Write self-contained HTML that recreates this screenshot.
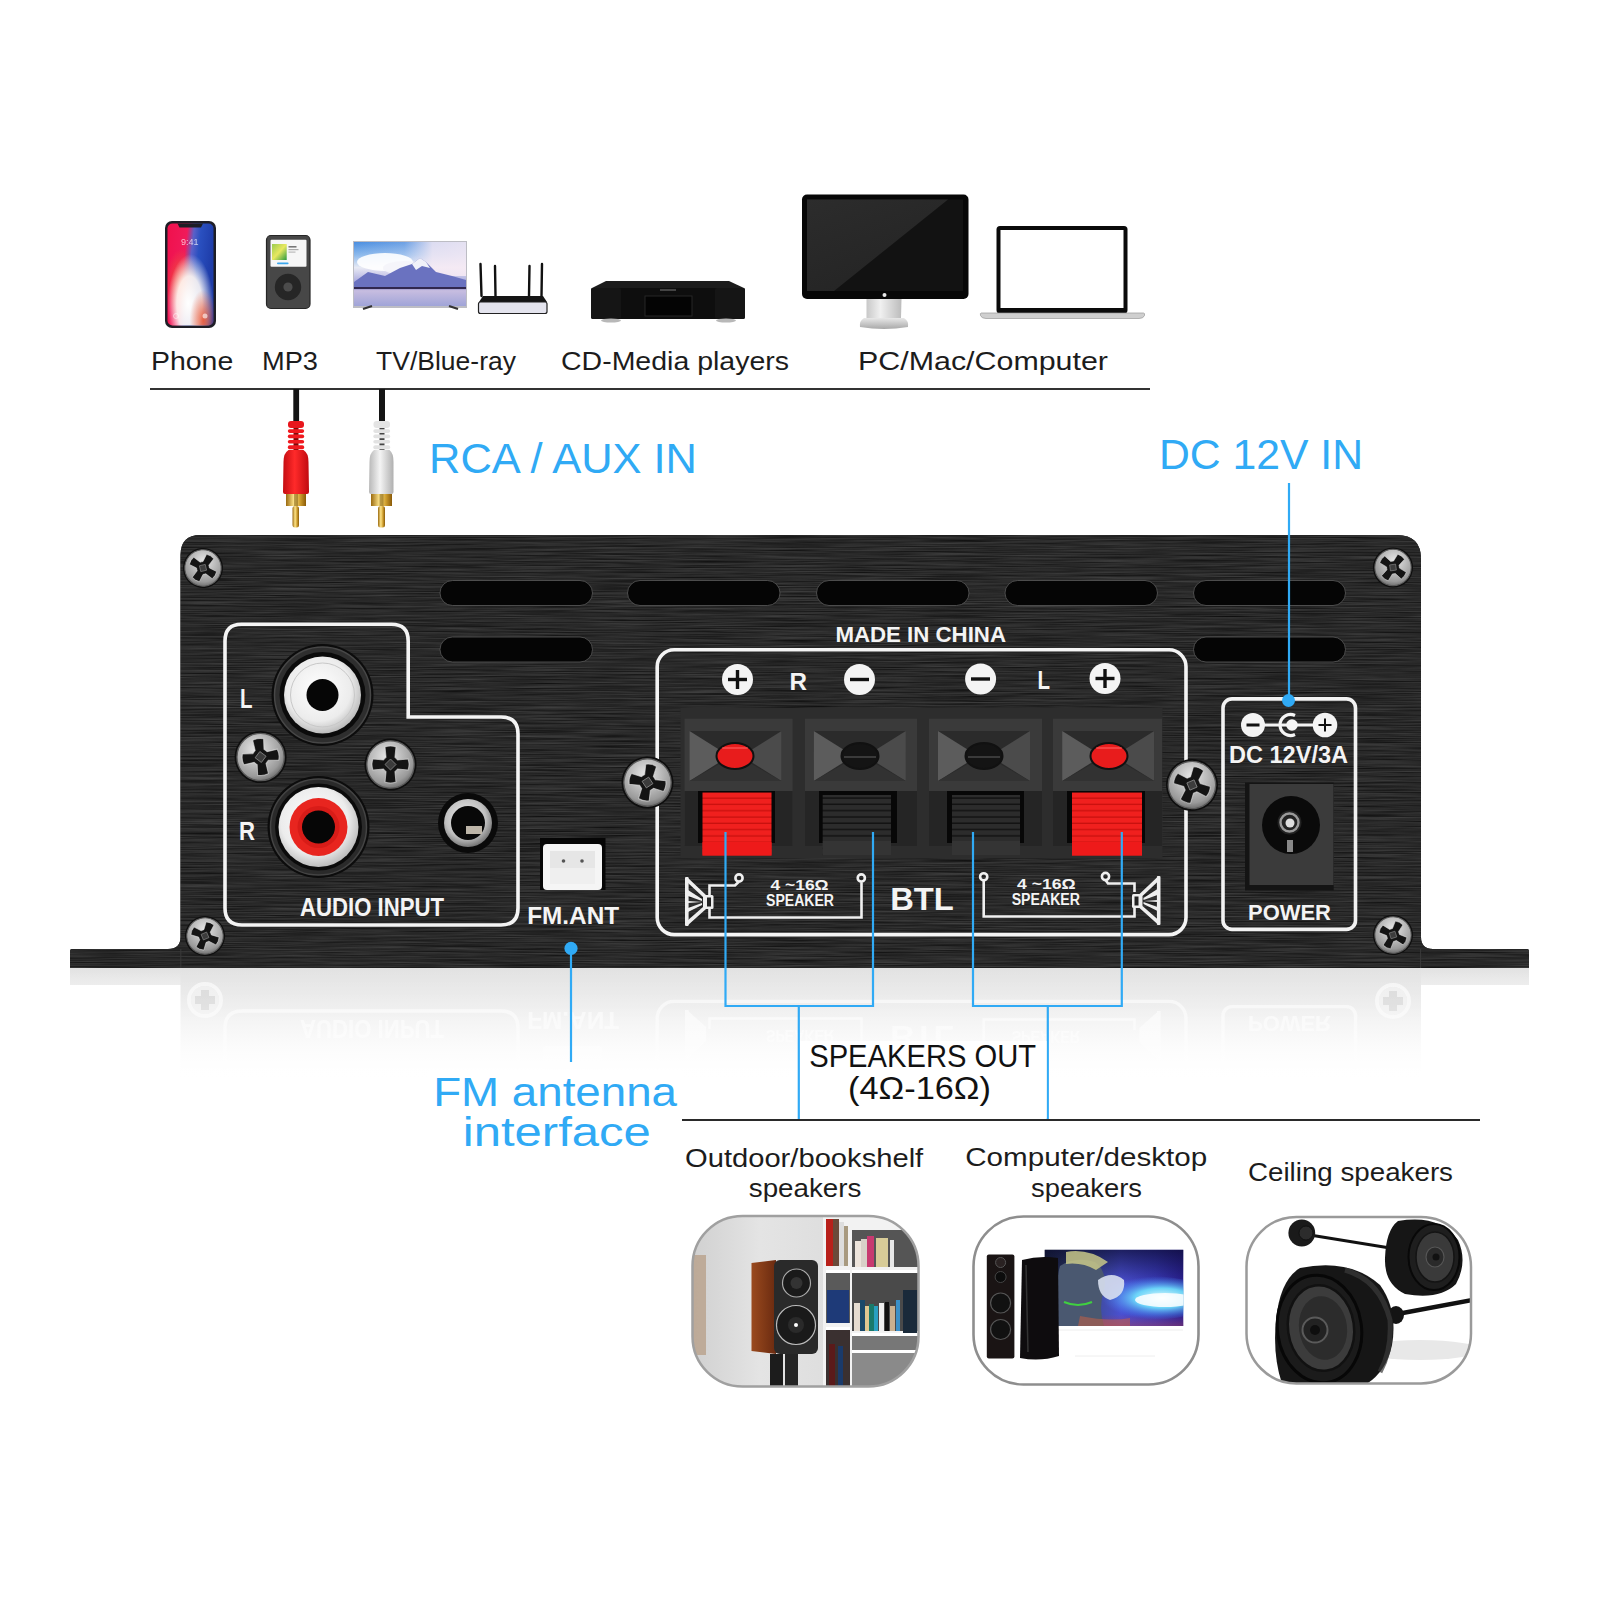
<!DOCTYPE html>
<html><head><meta charset="utf-8"><title>Amplifier connections</title>
<style>
html,body{margin:0;padding:0;background:#fff;}
body{width:1600px;height:1600px;overflow:hidden;position:relative;}
svg{position:absolute;left:0;top:0;display:block;}
text{font-family:"Liberation Sans",sans-serif;}
.lbl{font-size:26px;fill:#1c1c1c;}
.blue{fill:#30aaf5;}
.wb{font-weight:bold;fill:#f4f4f4;}
</style></head>
<body>
<svg width="1600" height="1600" viewBox="0 0 1600 1600">
<defs>
  <linearGradient id="phoneScr" x1="0" y1="0" x2="1" y2="0.25">
    <stop offset="0" stop-color="#f0104c"/><stop offset="0.42" stop-color="#f01a5a"/>
    <stop offset="0.56" stop-color="#5a60c8"/><stop offset="0.7" stop-color="#2a50c0"/>
    <stop offset="1" stop-color="#1e3ca8"/>
  </linearGradient>
  <radialGradient id="phoneGlow" cx="0.5" cy="0.8" r="0.5" fx="0.45" fy="0.78">
    <stop offset="0" stop-color="#fff" stop-opacity="1"/><stop offset="0.55" stop-color="#fffaf6" stop-opacity="0.9"/><stop offset="1" stop-color="#fff" stop-opacity="0"/>
  </radialGradient>
  <radialGradient id="phoneOr1" cx="0.3" cy="0.6" r="0.35">
    <stop offset="0" stop-color="#f26a30" stop-opacity="0.85"/><stop offset="1" stop-color="#f26a30" stop-opacity="0"/>
  </radialGradient>
  <radialGradient id="phoneOr2" cx="0.78" cy="0.95" r="0.3">
    <stop offset="0" stop-color="#f05028" stop-opacity="0.85"/><stop offset="1" stop-color="#f05028" stop-opacity="0"/>
  </radialGradient>
  <linearGradient id="phoneV" x1="0" y1="0" x2="0" y2="1">
    <stop offset="0" stop-color="#fff" stop-opacity="0"/><stop offset="0.75" stop-color="#f8a070" stop-opacity="0.1"/>
    <stop offset="1" stop-color="#f07040" stop-opacity="0.45"/>
  </linearGradient>
  <linearGradient id="tvScr" x1="0" y1="0" x2="0" y2="1">
    <stop offset="0" stop-color="#4a8ee0"/><stop offset="0.2" stop-color="#8ab8ec"/><stop offset="0.4" stop-color="#e8eaf4"/>
    <stop offset="0.6" stop-color="#b0b0e0"/><stop offset="0.72" stop-color="#8a8ac8"/>
    <stop offset="0.76" stop-color="#c7bde0"/>
    <stop offset="1" stop-color="#a0a4d8"/>
  </linearGradient>
  <linearGradient id="monScr" x1="0" y1="0" x2="1" y2="1">
    <stop offset="0" stop-color="#2c2c2c"/><stop offset="0.5" stop-color="#242424"/>
    <stop offset="0.5" stop-color="#0c0c0c"/><stop offset="1" stop-color="#0a0a0a"/>
  </linearGradient>
  <linearGradient id="silverV" x1="0" y1="0" x2="0" y2="1">
    <stop offset="0" stop-color="#e8e8e8"/><stop offset="1" stop-color="#a8a8a8"/>
  </linearGradient>
  <linearGradient id="redBody" x1="0" y1="0" x2="1" y2="0">
    <stop offset="0" stop-color="#c40d12"/><stop offset="0.45" stop-color="#ff2a2a"/><stop offset="1" stop-color="#c00a10"/>
  </linearGradient>
  <linearGradient id="whiteBody" x1="0" y1="0" x2="1" y2="0">
    <stop offset="0" stop-color="#b8b8b8"/><stop offset="0.45" stop-color="#f4f4f4"/><stop offset="1" stop-color="#b0b0b0"/>
  </linearGradient>
  <linearGradient id="gold" x1="0" y1="0" x2="1" y2="0">
    <stop offset="0" stop-color="#9a6a10"/><stop offset="0.4" stop-color="#ffe58a"/><stop offset="0.7" stop-color="#d0a030"/><stop offset="1" stop-color="#8a5a08"/>
  </linearGradient>
  
  <linearGradient id="reflFl" x1="0" y1="0" x2="0" y2="1">
    <stop offset="0" stop-color="#e2e2e2"/><stop offset="1" stop-color="#ececec"/>
  </linearGradient>
  <linearGradient id="reflPanel" x1="0" y1="0" x2="0" y2="1">
    <stop offset="0" stop-color="#e2e2e2"/><stop offset="0.25" stop-color="#e9e9e9"/><stop offset="0.6" stop-color="#f4f4f4"/><stop offset="1" stop-color="#ffffff"/>
  </linearGradient>
  <pattern id="brush" patternUnits="userSpaceOnUse" width="400" height="7">
    <rect width="400" height="7" fill="#252525"/>
    <rect y="0" width="400" height="1" fill="#2e2e2e"/>
    <rect y="2" width="260" height="1" fill="#1d1d1d"/>
    <rect x="120" y="3" width="280" height="1" fill="#303030"/>
    <rect y="5" width="180" height="1" fill="#2b2b2b"/>
    <rect x="220" y="6" width="180" height="1" fill="#1c1c1c"/>
  </pattern>
  <linearGradient id="brushV" x1="0" y1="0" x2="0" y2="1">
    <stop offset="0" stop-color="#000" stop-opacity="0.05"/><stop offset="1" stop-color="#000" stop-opacity="0.0"/>
  </linearGradient>
  <radialGradient id="jackWhite" cx="0.45" cy="0.42" r="0.6">
    <stop offset="0" stop-color="#ffffff"/><stop offset="0.7" stop-color="#ececec"/><stop offset="1" stop-color="#b8b8b8"/>
  </radialGradient>
  <radialGradient id="jackSilver" cx="0.45" cy="0.4" r="0.6">
    <stop offset="0" stop-color="#f0f0f0"/><stop offset="0.7" stop-color="#c0c0c0"/><stop offset="1" stop-color="#777"/>
  </radialGradient>
  <radialGradient id="screwG" cx="0.4" cy="0.35" r="0.7">
    <stop offset="0" stop-color="#e8e8e8"/><stop offset="0.45" stop-color="#bdbdbd"/><stop offset="0.8" stop-color="#9a9a9a"/><stop offset="1" stop-color="#6a6a6a"/>
  </radialGradient>
  <g id="screw">
    <circle r="20" fill="#0e0e0e"/>
    <circle r="18.2" fill="url(#screwG)"/>
    <circle r="18.2" fill="none" stroke="#5a5a5a" stroke-width="1"/>
    <path d="M-4.2 -13.5 Q0 -15 4.2 -13.5 L3.4 -5.5 Q4.5 -4.5 5.5 -3.4 L13.5 -4.2 Q15 0 13.5 4.2 L5.5 3.4 Q4.5 4.5 3.4 5.5 L4.2 13.5 Q0 15 -4.2 13.5 L-3.4 5.5 Q-4.5 4.5 -5.5 3.4 L-13.5 4.2 Q-15 0 -13.5 -4.2 L-5.5 -3.4 Q-4.5 -4.5 -3.4 -5.5 Z" fill="#141414" stroke="#e8e8e8" stroke-width="0.8" stroke-opacity="0.6" transform="rotate(-8)"/>
    <rect x="-3" y="-3" width="6" height="6" fill="#3c3c3c" stroke="#888" stroke-width="0.6" transform="rotate(37)"/>
  </g>
  
  <pattern id="ridgeRed" patternUnits="userSpaceOnUse" width="10" height="6.3" y="792.5">
    <rect width="10" height="6.3" fill="#f0201e"/>
    <rect y="5" width="10" height="1.3" fill="#c8100e"/>
  </pattern>
  <pattern id="ridgeBlk" patternUnits="userSpaceOnUse" width="10" height="6.3" y="792.5">
    <rect width="10" height="6.3" fill="#2c2c2c"/>
    <rect y="4.8" width="10" height="1.5" fill="#121212"/>
  </pattern>
  
  <clipPath id="clipT1"><rect x="692.5" y="1216" width="226" height="170.5" rx="50"/></clipPath>
  <clipPath id="clipT2"><rect x="973.5" y="1216.5" width="225" height="168" rx="50"/></clipPath>
  <clipPath id="clipT3"><rect x="1246.5" y="1216.9" width="224.5" height="166.5" rx="50"/></clipPath>
  <linearGradient id="wallG" x1="0" y1="0" x2="1" y2="0">
    <stop offset="0" stop-color="#d0d0d0"/><stop offset="0.3" stop-color="#e4e4e4"/><stop offset="0.6" stop-color="#dedede"/><stop offset="1" stop-color="#cfcfcf"/>
  </linearGradient>
  <linearGradient id="woodG" x1="0" y1="0" x2="1" y2="0">
    <stop offset="0" stop-color="#9a4a1e"/><stop offset="1" stop-color="#6a2a10"/>
  </linearGradient>
  <linearGradient id="gameG" x1="0" y1="0" x2="1" y2="0">
    <stop offset="0" stop-color="#1e2838"/><stop offset="0.3" stop-color="#3a4a88"/><stop offset="0.55" stop-color="#4a50d0"/><stop offset="0.8" stop-color="#3a3ab8"/><stop offset="1" stop-color="#2a2090"/>
  </linearGradient>
  <linearGradient id="gameTop" x1="0" y1="0" x2="0" y2="1">
    <stop offset="0" stop-color="#0a0a30" stop-opacity="0.7"/><stop offset="0.45" stop-color="#0a0a30" stop-opacity="0"/><stop offset="0.85" stop-color="#a03060" stop-opacity="0"/><stop offset="1" stop-color="#a04060" stop-opacity="0.5"/>
  </linearGradient>
  <radialGradient id="beamG" cx="0.6" cy="0.5" r="0.5">
    <stop offset="0" stop-color="#f0ffff"/><stop offset="0.45" stop-color="#70e4ff" stop-opacity="0.9"/><stop offset="1" stop-color="#4080ff" stop-opacity="0"/>
  </radialGradient>
  
  <linearGradient id="reflFade" x1="0" y1="0" x2="0" y2="1">
    <stop offset="0" stop-color="#fff" stop-opacity="0"/><stop offset="0.3" stop-color="#fff" stop-opacity="0.15"/><stop offset="0.6" stop-color="#fff" stop-opacity="0.5"/><stop offset="0.92" stop-color="#fff" stop-opacity="1"/><stop offset="1" stop-color="#fff" stop-opacity="1"/>
  </linearGradient>
  
  <clipPath id="clipRefl"><rect x="70" y="968" width="1460" height="118"/></clipPath>
  
  <clipPath id="panelClip"><path d="M70 951 Q70 949 72 949 L168 949 Q180.5 949 180.5 937 L180.5 555 Q180.5 535 200.5 535 L1397 535 Q1421 535 1421 559 L1421 937 Q1421 949 1433 949 L1527 949 Q1529 949 1529 951 L1529 968 L70 968 Z"/></clipPath>
  <filter id="brushF" x="0" y="0" width="1" height="1" filterUnits="objectBoundingBox" color-interpolation-filters="sRGB">
    <feTurbulence type="fractalNoise" baseFrequency="0.012 0.8" numOctaves="3" seed="7" result="n"/>
    <feColorMatrix in="n" type="matrix" values="0.24 0 0 0 0.04  0.24 0 0 0 0.04  0.24 0 0 0 0.04  0 0 0 0 1"/>
  </filter>
  <linearGradient id="tvSkyR" x1="0" y1="0" x2="1" y2="0">
    <stop offset="0" stop-color="#f4e8f4" stop-opacity="0"/><stop offset="0.45" stop-color="#f4e8f4" stop-opacity="0.2"/><stop offset="0.7" stop-color="#f6eaf4" stop-opacity="0.85"/><stop offset="1" stop-color="#f6eaf4" stop-opacity="0.9"/>
  </linearGradient>
  <linearGradient id="monGl" x1="0" y1="0" x2="0.6" y2="1">
    <stop offset="0" stop-color="#2c2c2c"/><stop offset="1" stop-color="#242424"/>
  </linearGradient>
  <linearGradient id="standG" x1="0" y1="0" x2="1" y2="0">
    <stop offset="0" stop-color="#c8c8c8"/><stop offset="0.4" stop-color="#f0f0f0"/><stop offset="1" stop-color="#bcbcbc"/>
  </linearGradient>
  <linearGradient id="ipodArt" x1="0" y1="0" x2="1" y2="1">
    <stop offset="0" stop-color="#9acc50"/><stop offset="0.5" stop-color="#e8e860"/><stop offset="1" stop-color="#2a9a40"/>
  </linearGradient>
  <clipPath id="clipScr"><rect x="1044.5" y="1249.6" width="139" height="76.4"/></clipPath>
  <!--DEFS2-->
</defs>

<!-- ===== TOP DEVICES ===== -->
<g id="devices">
  <!-- phone -->
  <rect x="165" y="221" width="51" height="107" rx="7" fill="#1e1e26"/>
  <rect x="167.5" y="223.5" width="46" height="102" rx="5" fill="url(#phoneScr)"/>
  <rect x="167.5" y="223.5" width="46" height="102" rx="5" fill="url(#phoneOr1)"/>
  <rect x="167.5" y="223.5" width="46" height="102" rx="5" fill="url(#phoneGlow)"/>
  <rect x="167.5" y="223.5" width="46" height="102" rx="5" fill="url(#phoneOr2)"/>
  <path d="M177.5 223.5 L203 223.5 L201 227.5 L179.5 227.5Z" fill="#1e1e26"/>
  <text x="181" y="245" font-size="9" fill="#fff" opacity="0.7">9:41</text>
  <circle cx="176" cy="316" r="2.5" fill="none" stroke="#fff" stroke-opacity="0.5"/>
  <circle cx="205" cy="316" r="2.5" fill="#fff" fill-opacity="0.6"/>
  <!-- ipod -->
  <rect x="266.5" y="235.5" width="43.5" height="73" rx="4.5" fill="#474747" stroke="#262626" stroke-width="1.2"/>
  <rect x="270.5" y="239.7" width="36" height="27" rx="1" fill="#f6f6f6"/>
  <rect x="272" y="244" width="14.7" height="16" fill="url(#ipodArt)"/>
  <rect x="288.5" y="246" width="8" height="1.6" fill="#777"/>
  <rect x="288.5" y="249" width="10" height="1.2" fill="#aaa"/>
  <rect x="288.5" y="251.5" width="7" height="1.2" fill="#bbb"/>
  <rect x="277" y="262.4" width="11.6" height="1.8" rx="0.9" fill="#3aa6ec"/>
  <circle cx="288" cy="287" r="13.2" fill="#262626"/>
  <circle cx="288" cy="287" r="4.6" fill="#4c4c4c"/>
  <!-- tv -->
  <rect x="353" y="241" width="114" height="67" fill="#bdbdc4"/>
  <rect x="354" y="242" width="112" height="64" fill="url(#tvScr)"/>
  <rect x="354" y="242" width="112" height="34" fill="url(#tvSkyR)"/>
  <ellipse cx="385" cy="262" rx="28" ry="9" fill="#fff" opacity="0.9"/>
  <ellipse cx="405" cy="268" rx="22" ry="7" fill="#f4f4fa" opacity="0.9"/>
  <path d="M354 282 L368 272 L385 276 L400 268 L412 264 L420 258 L426 262 L436 272 L452 276 L466 280 L466 288 L354 288Z" fill="#6a72c0"/>
  <path d="M412 264 L420 258 L426 262 L430 268 L422 266 L416 270Z" fill="#fff" opacity="0.9"/>
  <rect x="354" y="287" width="112" height="2" fill="#302850"/>
  <path d="M363 309 L372 306" stroke="#333" stroke-width="2"/>
  <path d="M449 306 L458 309" stroke="#333" stroke-width="2"/>
  <!-- router -->
  <g stroke="#111" stroke-width="2.4" stroke-linecap="round">
    <line x1="480.5" y1="264" x2="481.5" y2="296"/>
    <line x1="495" y1="266" x2="495.5" y2="296"/>
    <line x1="529.5" y1="266" x2="529" y2="296"/>
    <line x1="542" y1="264" x2="541.5" y2="296"/>
  </g>
  <path d="M479 302 L483 296 L543 296 L547 302Z" fill="#151515"/>
  <rect x="478.5" y="302" width="68.5" height="11.5" rx="2" fill="#e4e4ee" stroke="#222" stroke-width="1.2"/>
  <!-- cd player -->
  <path d="M606 281 L729 281 L745 288.5 L591 288.5 Z" fill="#1c1c1c"/>
  <rect x="591" y="288" width="154" height="31" rx="2" fill="#0e0e0e"/>
  <rect x="591" y="288" width="30" height="31" rx="2" fill="#151515"/>
  <rect x="715" y="288" width="30" height="31" rx="2" fill="#151515"/>
  <rect x="645" y="296" width="47" height="20" fill="#040404" stroke="#262626" stroke-width="1"/>
  <rect x="660" y="289" width="16" height="2" fill="#444"/>
  <ellipse cx="611" cy="320.5" rx="10" ry="2" fill="#b8b8b8"/>
  <ellipse cx="726" cy="320.5" rx="10" ry="2" fill="#b8b8b8"/>
  <!-- monitor -->
  <rect x="802" y="194.5" width="166.5" height="104.5" rx="5" fill="#070707"/>
  <rect x="807" y="199.5" width="156" height="91.5" fill="#121212"/>
  <path d="M807 199.5 L948 199.5 L834 291 L807 291Z" fill="url(#monGl)"/>
  <circle cx="884.5" cy="295" r="2" fill="#e8e8e8"/>
  <path d="M866.5 299 L901.5 299 L901 318 L866.5 318Z" fill="url(#standG)"/>
  <path d="M864 318 L904 318 Q909 321 908 327 Q884 331 860 327 Q859 321 864 318Z" fill="url(#silverV)"/>
  <!-- laptop -->
  <rect x="996.5" y="226" width="131" height="87.5" rx="3.5" fill="#0a0a0a"/>
  <rect x="1000.5" y="230" width="123" height="78" fill="#fff"/>
  <path d="M981 313 L1143.5 313 Q1145 313 1144.5 315.5 Q1143.5 318.5 1139 318.5 L986 318.5 Q981.5 318.5 980.5 315.5 Q980 313 981 313Z" fill="#cfcfcf" stroke="#9a9a9a" stroke-width="0.7"/>
</g>

<!-- labels -->
<g class="lbl">
  <text x="151.0" y="370" textLength="82.2" lengthAdjust="spacingAndGlyphs">Phone</text>
  <text x="262.0" y="370" textLength="56.0" lengthAdjust="spacingAndGlyphs">MP3</text>
  <text x="376.0" y="370" textLength="140.0" lengthAdjust="spacingAndGlyphs">TV/Blue-ray</text>
  <text x="561.0" y="370" textLength="228.0" lengthAdjust="spacingAndGlyphs">CD-Media players</text>
  <text x="858.0" y="370" textLength="250.0" lengthAdjust="spacingAndGlyphs">PC/Mac/Computer</text>
</g>
<rect x="150" y="388" width="1000" height="2" fill="#333"/>

<!-- RCA plugs -->
<g id="rcaRed">
  <rect x="293.3" y="389" width="5.8" height="33" fill="#141414"/>
  <rect x="293.5" y="421" width="5" height="30" fill="#7a0a0a"/>
  <rect x="288" y="421" width="16" height="7" rx="3" fill="#e8161c"/>
  <rect x="287.8" y="429.3" width="16.4" height="3.6" rx="1.8" fill="#f0181e"/>
  <rect x="287.8" y="434.6" width="16.4" height="3.6" rx="1.8" fill="#f0181e"/>
  <rect x="287.8" y="439.9" width="16.4" height="3.6" rx="1.8" fill="#f0181e"/>
  <rect x="287.8" y="445.2" width="16.4" height="4" rx="1.8" fill="#f0181e"/>
  <path d="M288.5 450 L303.5 450 Q308.5 453 308.5 462 L309 492 Q309 494 307 494 L285 494 Q283 494 283 492 L283.5 462 Q283.5 453 288.5 450Z" fill="url(#redBody)"/>
  <rect x="286" y="494" width="20" height="12" fill="url(#gold)"/>
  <rect x="294" y="494" width="4" height="12" fill="#7a5a10" opacity="0.5"/>
  <rect x="292.5" y="506" width="6.5" height="21.5" rx="2.5" fill="url(#gold)"/>
</g>
<g id="rcaWhite">
  <rect x="379" y="389" width="6" height="33" fill="#141414"/>
  <rect x="379.5" y="421" width="5" height="30" fill="#444"/>
  <rect x="373.5" y="421" width="16.5" height="7" rx="3" fill="#e4e4e4"/>
  <rect x="373.3" y="429.3" width="16.9" height="3.6" rx="1.8" fill="#e2e2e2"/>
  <rect x="373.3" y="434.6" width="16.9" height="3.6" rx="1.8" fill="#e2e2e2"/>
  <rect x="373.3" y="439.9" width="16.9" height="3.6" rx="1.8" fill="#e2e2e2"/>
  <rect x="373.3" y="445.2" width="16.9" height="4" rx="1.8" fill="#e2e2e2"/>
  <path d="M374 450 L389.5 450 Q393.5 453 393.5 462 L393.5 492 Q393.5 494 391.5 494 L371 494 Q369 494 369 492 L369.5 462 Q369.5 453 374 450Z" fill="url(#whiteBody)"/>
  <rect x="371" y="494" width="21" height="12" fill="url(#gold)"/>
  <rect x="379.5" y="494" width="4" height="12" fill="#7a5a10" opacity="0.5"/>
  <rect x="378" y="506" width="7" height="21.5" rx="2.5" fill="url(#gold)"/>
</g>

<!-- blue callout titles -->
<text class="blue" x="429.0" y="473" font-size="42" textLength="268.0" lengthAdjust="spacingAndGlyphs">RCA / AUX IN</text>
<text class="blue" x="1159.0" y="469" font-size="42" textLength="204.0" lengthAdjust="spacingAndGlyphs">DC 12V IN</text>

<!-- ===== REFLECTION ===== -->
<rect x="70" y="968" width="1459" height="17" fill="url(#reflFl)"/>
<rect x="180.5" y="968" width="1240.5" height="115" fill="url(#reflPanel)"/>
<g clip-path="url(#clipRefl)"><g transform="translate(0,1936) scale(1,-1)" opacity="0.75">
  <g fill="none" stroke="#fbfbfb" stroke-width="3.4">
    <path d="M225 641 Q225 624.3 241.5 624.3 L391.5 624.3 Q408.2 624.3 408.2 641 L408.2 717 L501 717 Q518 717 518 734 L518 908 Q518 925 501 925 L242 925 Q225 925 225 908 Z"/>
    <rect x="657.2" y="649.8" width="528.8" height="284.8" rx="17"/>
    <rect x="1223" y="698.9" width="132.5" height="230.5" rx="9"/>
  </g>
  <g font-weight="bold" fill="#fbfbfb">
    <text x="300" y="916" font-size="26" textLength="144" lengthAdjust="spacingAndGlyphs">AUDIO INPUT</text>
    <text x="527.2" y="924" font-size="24.7" textLength="92" lengthAdjust="spacingAndGlyphs">FM.ANT</text>
    <text x="890.2" y="909.8" font-size="32" textLength="63.6" lengthAdjust="spacingAndGlyphs">BTL</text>
    <text x="1248" y="919.7" font-size="21.5" textLength="83" lengthAdjust="spacingAndGlyphs">POWER</text>
    <text x="766" y="906.2" font-size="16" textLength="68" lengthAdjust="spacingAndGlyphs">SPEAKER</text>
    <text x="1011.7" y="905" font-size="16" textLength="68.3" lengthAdjust="spacingAndGlyphs">SPEAKER</text>
  </g>
  <rect x="543" y="844" width="59" height="46" rx="4" fill="#fbfbfb"/>
  <g fill="none" stroke="#fbfbfb" stroke-width="4"><circle cx="205" cy="936" r="16"/><circle cx="1393" cy="935" r="16"/></g>
  <g fill="#f2f2f2"><circle cx="205" cy="936" r="14"/><circle cx="1393" cy="935" r="14"/></g>
  <g fill="#d6d6d6"><path d="M201 926h8v6h6v8h-6v6h-8v-6h-6v-8h6z"/><path d="M1389 925h8v6h6v8h-6v6h-8v-6h-6v-8h6z"/></g>
  <g fill="none" stroke="#fbfbfb" stroke-width="2.6">
    <path d="M709.5 907 L709.5 917.5 L861.5 917.5 L861.5 882.5"/>
    <path d="M983.7 880.5 L983.7 916.5 L1134.5 916.5 L1134.5 906"/>
  </g>
  <g fill="#fbfbfb"><rect x="685" y="877" width="3.6" height="49"/><path d="M687 877 L706 895 L706 909 L687 926Z"/><rect x="1157" y="876" width="3.6" height="49"/><path d="M1158.5 876 L1139.5 894 L1139.5 908 L1158.5 925Z"/></g>
</g></g>
<rect x="70" y="968" width="1460" height="120" fill="url(#reflFade)"/>

<!-- ===== PANEL BODY ===== -->
<path d="M70 951 Q70 949 72 949 L168 949 Q180.5 949 180.5 937 L180.5 555 Q180.5 535 200.5 535 L1397 535 Q1421 535 1421 559 L1421 937 Q1421 949 1433 949 L1527 949 Q1529 949 1529 951 L1529 968 L70 968 Z" fill="#242424"/>
<g clip-path="url(#panelClip)">
  <rect x="70" y="535" width="1460" height="434" filter="url(#brushF)"/>
</g>
<line x1="180.8" y1="949" x2="180.8" y2="968" stroke="#3a3a3a" stroke-width="1"/>
<line x1="1420.6" y1="949" x2="1420.6" y2="968" stroke="#3a3a3a" stroke-width="1"/>

<!-- vents -->
<g fill="#050505" stroke="#5a5a5a" stroke-width="0.8">
  <rect x="440" y="580.5" width="152.5" height="25" rx="12.5"/>
  <rect x="627.5" y="580.5" width="152.5" height="25" rx="12.5"/>
  <rect x="816.5" y="580.5" width="152.5" height="25" rx="12.5"/>
  <rect x="1005" y="580.5" width="152.5" height="25" rx="12.5"/>
  <rect x="1193.5" y="580.5" width="152" height="25" rx="12.5"/>
  <rect x="440" y="637" width="152.5" height="25" rx="12.5"/>
  <rect x="1193.5" y="637" width="152" height="25" rx="12.5"/>
</g>

<!-- ===== AUDIO INPUT ===== -->
<path d="M225 641 Q225 624.3 241.5 624.3 L391.5 624.3 Q408.2 624.3 408.2 641 L408.2 717 L501 717 Q518 717 518 734 L518 908 Q518 925 501 925 L242 925 Q225 925 225 908 Z" fill="none" stroke="#f4f4f4" stroke-width="3.6"/>
<text class="wb" x="240" y="708" font-size="27" textLength="12.5" lengthAdjust="spacingAndGlyphs">L</text>
<text class="wb" x="239" y="840" font-size="26" textLength="16" lengthAdjust="spacingAndGlyphs">R</text>
<text class="wb" x="300.0" y="916" font-size="26" textLength="144.0" lengthAdjust="spacingAndGlyphs">AUDIO INPUT</text>

<!-- L jack (white) -->
<g>
  <circle cx="322.5" cy="695" r="51" fill="#0c0c0c"/>
  <circle cx="322.5" cy="695" r="48" fill="#2e2e2e" stroke="#474747" stroke-width="1.5"/>
  <circle cx="322.5" cy="695" r="43" fill="#0b0b0b"/>
  <circle cx="322.5" cy="695" r="38.5" fill="url(#jackWhite)"/>
  <circle cx="322.5" cy="695" r="32" fill="none" stroke="#c8c8c8" stroke-width="1"/>
  <circle cx="322.5" cy="695" r="16" fill="#060606"/>
</g>
<!-- R jack (red) -->
<g>
  <circle cx="318.5" cy="827" r="51" fill="#0c0c0c"/>
  <circle cx="318.5" cy="827" r="48" fill="#2a2a2a" stroke="#444" stroke-width="1.5"/>
  <circle cx="318.5" cy="827" r="43.5" fill="#0b0b0b"/>
  <circle cx="318.5" cy="827" r="40" fill="url(#jackWhite)"/>
  <circle cx="318.5" cy="827" r="29" fill="#e8251f"/>
  <circle cx="318.5" cy="827" r="21" fill="#d81c18"/>
  <circle cx="318.5" cy="827" r="16.5" fill="#060606"/>
</g>
<!-- 3.5mm jack -->
<g>
  <circle cx="468" cy="823" r="30" fill="#0a0a0a"/>
  <circle cx="468" cy="823" r="24" fill="url(#jackSilver)"/>
  <circle cx="468" cy="823" r="17" fill="#080808"/>
  <rect x="466" y="826" width="16" height="8" fill="#bdb5a8"/>
</g>
<!-- screws in audio box -->
<use href="#screw" transform="translate(260.6,757) scale(1.3)"/>
<use href="#screw" transform="translate(390.5,764.5) scale(1.3) rotate(8)"/>

<!-- FM ANT -->
<rect x="540" y="838" width="65.5" height="52" fill="#060606"/>
<rect x="543" y="844" width="59" height="46" rx="4" fill="#f5f5f5"/>
<rect x="550" y="851" width="45" height="33" fill="#e6e6e6"/>
<rect x="550" y="868" width="45" height="16" fill="#efefef"/>
<circle cx="563.5" cy="861" r="1.8" fill="#555"/>
<circle cx="582" cy="861" r="1.8" fill="#555"/>
<text class="wb" x="527.2" y="924" font-size="24.7" textLength="92.0" lengthAdjust="spacingAndGlyphs">FM.ANT</text>
<!-- ===== SPEAKER BOX ===== -->
<text class="wb" x="835.4" y="641.7" font-size="22" textLength="170.6" lengthAdjust="spacingAndGlyphs">MADE IN CHINA</text>
<rect x="657.2" y="649.8" width="528.8" height="284.8" rx="17" fill="none" stroke="#f4f4f4" stroke-width="3.6"/>
<!-- +/- symbols -->
<g>
  <circle cx="737.5" cy="679.5" r="15.5" fill="#f4f4f4"/>
  <circle cx="859.5" cy="679.5" r="15.5" fill="#f4f4f4"/>
  <circle cx="980.6" cy="679" r="15.5" fill="#f4f4f4"/>
  <circle cx="1105" cy="678.5" r="15.5" fill="#f4f4f4"/>
  <g stroke="#111" stroke-width="3.4">
    <line x1="728" y1="679.5" x2="747" y2="679.5"/><line x1="737.5" y1="670" x2="737.5" y2="689"/>
    <line x1="850" y1="679.5" x2="869" y2="679.5"/>
    <line x1="971" y1="679" x2="990" y2="679"/>
    <line x1="1095.5" y1="678.5" x2="1114.5" y2="678.5"/><line x1="1105" y1="669" x2="1105" y2="688"/>
  </g>
  <text class="wb" x="789.5" y="689.6" font-size="24" textLength="17.5" lengthAdjust="spacingAndGlyphs">R</text>
  <text class="wb" x="1037.5" y="689.3" font-size="25" textLength="12.5" lengthAdjust="spacingAndGlyphs">L</text>
</g>
<!-- terminal block -->
<rect x="680.5" y="708" width="482" height="150" fill="#2d2d2d"/>
<g id="unitsTop">
  <rect x="684.6" y="718.7" width="108" height="127" fill="#3a3a3a"/>
  <rect x="805" y="718.7" width="112" height="127" fill="#3a3a3a"/>
  <rect x="929" y="718.7" width="113" height="127" fill="#3a3a3a"/>
  <rect x="1053" y="718.7" width="109" height="127" fill="#3a3a3a"/>
  <g fill="#252525">
    <rect x="684.6" y="791" width="108" height="55"/>
    <rect x="805" y="791" width="112" height="55"/>
    <rect x="929" y="791" width="113" height="55"/>
    <rect x="1053" y="791" width="109" height="55"/>
  </g>
</g>
<!-- bowties -->
<g id="bt1">
  <rect x="689.5" y="731" width="92" height="50" fill="#2b2b2b"/>
  <path d="M689.5 731 L723 752 L723 760 L689.5 781Z" fill="#5c5c5c"/>
  <path d="M781.5 731 L748 752 L748 760 L781.5 781Z" fill="#4b4b4b"/>
  <path d="M689.5 781 L781.5 781 L748 762 L723 762Z" fill="#323232"/>
</g>
<use href="#bt1" x="124.3"/>
<use href="#bt1" x="248.5"/>
<use href="#bt1" x="372.7"/>
<!-- holes -->
<g stroke="#111" stroke-width="2">
  <ellipse cx="735" cy="756" rx="18.5" ry="13" fill="#e81c1c"/>
  <ellipse cx="860" cy="756" rx="18.5" ry="13" fill="#141414"/>
  <ellipse cx="984" cy="756" rx="18.5" ry="13" fill="#141414"/>
  <ellipse cx="1109" cy="756" rx="18.5" ry="13" fill="#e81c1c"/>
</g>
<g fill="#ff5a5a" opacity="0.6"><rect x="722" y="747" width="26" height="2" rx="1"/><rect x="1096" y="747" width="26" height="2" rx="1"/></g>
<g fill="#3a3a3a"><rect x="844" y="756" width="32" height="2"/><rect x="968" y="756" width="32" height="2"/></g>
<!-- levers -->
<g fill="#070707">
  <rect x="698" y="791" width="77" height="52"/>
  <rect x="819" y="791" width="78" height="52"/>
  <rect x="947" y="791" width="77" height="52"/>
  <rect x="1067" y="791" width="78" height="52"/>
</g>
<rect x="702.5" y="792.5" width="69" height="63" fill="url(#ridgeRed)"/>
<rect x="1072" y="792.5" width="70" height="63" fill="url(#ridgeRed)"/>
<rect x="822.7" y="795" width="68.3" height="60.5" fill="url(#ridgeBlk)"/>
<rect x="952" y="795" width="68" height="60.5" fill="url(#ridgeBlk)"/>
<rect x="822.7" y="841" width="68.3" height="14.5" fill="#343434"/>
<rect x="952" y="841" width="68" height="14.5" fill="#343434"/>
<rect x="702.5" y="842" width="69" height="13.5" fill="#ee1a1a"/>
<rect x="1072" y="842" width="70" height="13.5" fill="#ee1a1a"/>

<!-- bottom legend left -->
<g fill="none" stroke="#f0f0f0" stroke-width="2.6">
  <path d="M709.5 897 L709.5 885.5 L735 885.5 L738.5 882"/>
  <path d="M709.5 907 L709.5 917.5 L861.5 917.5 L861.5 882.5"/>
  <circle cx="739" cy="878" r="3.6"/>
  <circle cx="861.3" cy="878" r="3.6"/>
  <path d="M983.7 880.5 L983.7 916.5 L1134.5 916.5 L1134.5 906"/>
  <path d="M1134.5 892 L1134.5 883.5 L1108 883.5 L1105.5 880"/>
  <circle cx="983.7" cy="876.8" r="3.6"/>
  <circle cx="1105.5" cy="876.5" r="3.6"/>
</g>
<g id="spkIconL" fill="#eee">
  <rect x="685" y="877" width="3.6" height="49" rx="1"/>
  <path d="M687 877 L706 895 L706 909 L687 926 L687 921 L703 907 L703 897 L687 882Z"/>
  <path d="M688 890 L702 899 L702 901 L688 896Z"/>
  <path d="M688 912 L702 905 L702 903 L688 908Z"/>
  <path d="M688 901 L702 902 L688 903Z"/>
  <rect x="704.5" y="895" width="9" height="14" rx="1.5"/>
  <rect x="707" y="897.5" width="4" height="9" fill="#222"/>
</g>
<use href="#spkIconL" transform="translate(1845.5,-1) scale(-1,1)"/>
<g class="wb">
  <text x="770.6" y="890" font-size="14.5" textLength="58" lengthAdjust="spacingAndGlyphs">4 ~16Ω</text>
  <text x="766" y="906.2" font-size="16" textLength="68" lengthAdjust="spacingAndGlyphs">SPEAKER</text>
  <text x="1017" y="889" font-size="14.5" textLength="58.5" lengthAdjust="spacingAndGlyphs">4 ~16Ω</text>
  <text x="1011.7" y="905" font-size="16" textLength="68.3" lengthAdjust="spacingAndGlyphs">SPEAKER</text>
  <text x="890.2" y="909.8" font-size="32" textLength="63.6" lengthAdjust="spacingAndGlyphs">BTL</text>
</g>
<!-- side screws -->
<use href="#screw" transform="translate(647.5,782.5) scale(1.3) rotate(20)"/>
<use href="#screw" transform="translate(1192,785) scale(1.3) rotate(30)"/>

<!-- ===== POWER BOX ===== -->
<rect x="1223" y="698.9" width="132.5" height="230.5" rx="9" fill="none" stroke="#f2f2f2" stroke-width="3.6"/>
<g>
  <line x1="1262" y1="725" x2="1318" y2="725" stroke="#f2f2f2" stroke-width="3.2"/>
  <circle cx="1253" cy="725" r="12" fill="#f4f4f4"/>
  <circle cx="1325" cy="725" r="12.3" fill="#f4f4f4"/>
  <line x1="1246.5" y1="725" x2="1259.5" y2="725" stroke="#111" stroke-width="3"/>
  <line x1="1318.5" y1="725" x2="1331.5" y2="725" stroke="#111" stroke-width="2"/>
  <line x1="1325" y1="718.5" x2="1325" y2="731.5" stroke="#111" stroke-width="2"/>
  <path d="M1295 715.5 A10.5 10.5 0 1 0 1295 734.5" fill="none" stroke="#f4f4f4" stroke-width="3.2"/>
  <circle cx="1292" cy="725" r="5.8" fill="#f4f4f4"/>
</g>
<text class="wb" x="1229.0" y="763" font-size="23" textLength="119.0" lengthAdjust="spacingAndGlyphs">DC 12V/3A</text>
<rect x="1245" y="782.5" width="88.7" height="108" fill="#141414"/>
<rect x="1249.5" y="784" width="84" height="101" fill="#3b3b3b"/>
<circle cx="1291" cy="825" r="29" fill="#0a0a0a"/>
<circle cx="1289.5" cy="822.5" r="12" fill="#222"/>
<circle cx="1289.5" cy="822.5" r="9" fill="none" stroke="#9a9a9a" stroke-width="2.4"/>
<circle cx="1290" cy="823" r="4.5" fill="#ddd"/>
<rect x="1287" y="840" width="6" height="12" fill="#888"/>
<text class="wb" x="1248.0" y="919.7" font-size="21.5" textLength="83.0" lengthAdjust="spacingAndGlyphs">POWER</text>

<!-- corner screws -->
<use href="#screw" transform="translate(203,568) rotate(40)"/>
<use href="#screw" transform="translate(1393,567.5) rotate(45)"/>
<use href="#screw" transform="translate(205,936) rotate(30)"/>
<use href="#screw" transform="translate(1393,935) rotate(35)"/>

<!-- ===== BLUE CALLOUT LINES ===== -->
<g stroke="#30aaf5" stroke-width="2.2" fill="none">
  <line x1="1289" y1="483" x2="1289" y2="700"/>
  <line x1="571" y1="948" x2="571" y2="1062"/>
  <path d="M725.5 832 L725.5 1006 L873 1006 L873 832"/>
  <path d="M973 832 L973 1006 L1121.8 1006 L1121.8 832"/>
  <line x1="798.8" y1="1006" x2="798.8" y2="1119"/>
  <line x1="1047.8" y1="1006" x2="1047.8" y2="1119"/>
</g>
<circle cx="1288.5" cy="700.5" r="6.5" fill="#30aaf5"/>
<circle cx="571" cy="948.4" r="6.6" fill="#30aaf5"/>

<!--SPEAKERBOX-->

<!--PANEL-->

<!-- ===== BOTTOM TEXTS ===== -->
<rect x="800" y="1041" width="246.5" height="77" fill="#fff"/>
<text x="809.2" y="1067" font-size="31" fill="#111" textLength="227.0" lengthAdjust="spacingAndGlyphs">SPEAKERS OUT</text>
<text x="848.0" y="1099" font-size="31" fill="#111" textLength="143.0" lengthAdjust="spacingAndGlyphs">(4Ω-16Ω)</text>
<rect x="430" y="1070" width="252" height="85" fill="#fff" opacity="0.85"/>
<text class="blue" x="433.2" y="1106.4" font-size="41" textLength="243.8" lengthAdjust="spacingAndGlyphs">FM antenna</text>
<text class="blue" x="462.8" y="1146" font-size="41" textLength="188.0" lengthAdjust="spacingAndGlyphs">interface</text>
<rect x="682" y="1119" width="798" height="2" fill="#2a2a2a"/>

<g class="lbl" font-size="27">
  <text x="685.0" y="1166.7" textLength="238.2" lengthAdjust="spacingAndGlyphs">Outdoor/bookshelf</text>
  <text x="748.8" y="1197" textLength="112.6" lengthAdjust="spacingAndGlyphs">speakers</text>
  <text x="965.2" y="1166" textLength="242.0" lengthAdjust="spacingAndGlyphs">Computer/desktop</text>
  <text x="1031.0" y="1196.5" textLength="111.0" lengthAdjust="spacingAndGlyphs">speakers</text>
  <text x="1248.0" y="1181.4" textLength="205.0" lengthAdjust="spacingAndGlyphs">Ceiling speakers</text>
</g>

<!-- ===== THUMB 1: bookshelf ===== -->
<g clip-path="url(#clipT1)">
  <rect x="692" y="1215.5" width="227" height="171.5" fill="url(#wallG)"/>
  <rect x="692" y="1255" width="14" height="100" fill="#b59a80" opacity="0.7"/>
  <!-- bookshelf -->
  <rect x="823" y="1215" width="96" height="172" fill="#f2f2f2"/>
  <g>
    <rect x="826" y="1219" width="7" height="47" fill="#b8201a"/>
    <rect x="833" y="1219" width="6" height="47" fill="#6a4a3a"/>
    <rect x="839" y="1222" width="5" height="44" fill="#ddd"/>
    <rect x="844" y="1226" width="4" height="40" fill="#a89a80"/>
    <rect x="852" y="1230" width="66" height="37" fill="#555"/>
    <rect x="855" y="1241" width="6" height="26" fill="#ece4dc"/>
    <rect x="861" y="1239" width="6" height="28" fill="#d8d0c8"/>
    <rect x="867" y="1236" width="7" height="31" fill="#c83a70"/>
    <rect x="876" y="1238" width="12" height="29" fill="#d8cc98"/>
    <rect x="890" y="1240" width="4" height="27" fill="#e8e8e8"/>
    <rect x="826" y="1270" width="24" height="3" fill="#fff"/>
    <rect x="826" y="1273" width="24" height="50" fill="#5a5a5a"/>
    <rect x="827" y="1290" width="22" height="33" fill="#1e3a78"/>
    <rect x="852" y="1270" width="66" height="3" fill="#fff"/>
    <rect x="852" y="1273" width="66" height="58" fill="#4a4a4a"/>
    <rect x="854" y="1303" width="6" height="28" fill="#e6dcd0"/>
    <rect x="860" y="1300" width="5" height="31" fill="#1a4a6a"/>
    <rect x="865" y="1306" width="4" height="25" fill="#e0c890"/>
    <rect x="869" y="1304" width="5" height="27" fill="#1a7a6a"/>
    <rect x="874" y="1306" width="4" height="25" fill="#2aa0c0"/>
    <rect x="879" y="1303" width="5" height="28" fill="#f0f0f0"/>
    <rect x="885" y="1302" width="4" height="29" fill="#111"/>
    <rect x="890" y="1306" width="5" height="25" fill="#c8b090"/>
    <rect x="896" y="1300" width="4" height="31" fill="#3a90c8"/>
    <rect x="903" y="1290" width="14" height="45" fill="#1a2a3a"/>
    <rect x="826" y="1327" width="24" height="3" fill="#fff"/>
    <rect x="826" y="1330" width="24" height="57" fill="#3a3030"/>
    <rect x="829" y="1344" width="6" height="43" fill="#5a1a1a"/>
    <rect x="838" y="1346" width="5" height="41" fill="#1a3a6a"/>
    <rect x="852" y="1333" width="66" height="3" fill="#fff"/>
    <rect x="852" y="1336" width="66" height="14" fill="#777"/>
    <rect x="852" y="1350" width="66" height="3" fill="#fff"/>
    <rect x="852" y="1353" width="66" height="34" fill="#8a8a8a"/>
  </g>
  <!-- speaker -->
  <path d="M751.5 1263 L776 1260 L776 1354 L751.5 1351Z" fill="url(#woodG)"/>
  <rect x="774" y="1260" width="44" height="94" rx="6" fill="#2a2a2a"/>
  <circle cx="796.5" cy="1283" r="14" fill="#1a1a1a" stroke="#aaa" stroke-width="1.2"/>
  <circle cx="796.5" cy="1283" r="6" fill="#333"/>
  <circle cx="796" cy="1325" r="19.5" fill="#1a1a1a" stroke="#bbb" stroke-width="1.2"/>
  <circle cx="796" cy="1325" r="8" fill="#2a2a2a"/>
  <circle cx="796" cy="1325" r="2" fill="#fff"/>
  <rect x="770" y="1354" width="13" height="33" fill="#1c1c1c"/>
  <rect x="785" y="1354" width="13" height="33" fill="#252525"/>
</g>
<rect x="692.5" y="1216" width="226" height="170.5" rx="50" fill="none" stroke="#a0a0a0" stroke-width="2.5"/>

<!-- ===== THUMB 2: computer ===== -->
<g clip-path="url(#clipT2)">
  <rect x="973" y="1216" width="226" height="169" fill="#fff"/>
  <g clip-path="url(#clipScr)">
  <rect x="1044.5" y="1249.6" width="139" height="76.4" fill="url(#gameG)"/>
  <rect x="1044.5" y="1249.6" width="139" height="76.4" fill="url(#gameTop)"/>
  <ellipse cx="1150" cy="1298" rx="60" ry="22" fill="url(#beamG)"/>
  <ellipse cx="1165" cy="1300" rx="30" ry="7" fill="#fff" opacity="0.85"/>
  <path d="M1060 1266 Q1075 1256 1095 1262 Q1108 1272 1104 1290 Q1098 1308 1104 1326 L1058 1326 Q1052 1296 1060 1266Z" fill="#4a5870"/>
  <path d="M1066 1252 Q1088 1248 1108 1262 L1096 1270 Q1082 1262 1066 1264Z" fill="#c8c888" opacity="0.85"/>
  <path d="M1064 1302 Q1078 1308 1092 1302" stroke="#40d040" stroke-width="2" fill="none"/>
  <path d="M1098 1280 Q1112 1270 1124 1280 Q1126 1296 1110 1300 Q1098 1296 1098 1280Z" fill="#d8e0f0" opacity="0.9"/>
  <path d="M1080 1316 Q1110 1322 1130 1318 L1130 1326 L1078 1326Z" fill="#d06040" opacity="0.5"/>
  </g>
  <line x1="1048" y1="1330" x2="1183" y2="1330" stroke="#eee" stroke-width="1"/>
  <line x1="1075" y1="1356" x2="1155" y2="1356" stroke="#eee" stroke-width="1"/>
  <rect x="986.8" y="1254.4" width="27.6" height="104" rx="2" fill="#1a1414"/>
  <circle cx="1000.6" cy="1262.5" r="5" fill="#2a2222" stroke="#555" stroke-width="1"/>
  <circle cx="1000.6" cy="1277" r="5.5" fill="#0c0c0c" stroke="#444" stroke-width="1"/>
  <circle cx="1000.6" cy="1303" r="10" fill="#111" stroke="#555" stroke-width="1.2"/>
  <circle cx="1000.6" cy="1329.5" r="10" fill="#111" stroke="#555" stroke-width="1.2"/>
  <path d="M1022 1260 Q1040 1255 1058 1258 L1059 1356 Q1040 1362 1020 1358 Z" fill="#0e0c0e"/>
  <path d="M1026 1265 L1028 1352" stroke="#333" stroke-width="1.5"/>
</g>
<rect x="973.5" y="1216.5" width="225" height="168" rx="50" fill="none" stroke="#8e8e8e" stroke-width="2.6"/>

<!-- ===== THUMB 3: ceiling speakers ===== -->
<g clip-path="url(#clipT3)">
  <rect x="1246" y="1216.4" width="225.3" height="167.3" fill="#fff"/>
  <ellipse cx="1420" cy="1350" rx="60" ry="10" fill="#e8e8e8"/>
  <line x1="1313" y1="1235.5" x2="1390" y2="1248" stroke="#111" stroke-width="2.8"/>
  <circle cx="1301.8" cy="1233" r="13.4" fill="#1a1a1a"/>
  <circle cx="1306" cy="1233" r="7" fill="#2c2c2c" stroke="#111" stroke-width="1"/>
  <path d="M1398 1221 Q1440 1214 1458 1240 Q1468 1262 1456 1284 Q1440 1300 1405 1294 Q1384 1284 1385 1258 Q1386 1230 1398 1221Z" fill="#161616"/>
  <ellipse cx="1434" cy="1257" rx="25.5" ry="33" fill="#1e1e1e" stroke="#080808" stroke-width="2"/>
  <ellipse cx="1435" cy="1257" rx="19" ry="25" fill="#3a3a3a" stroke="#141414" stroke-width="1.5"/>
  <ellipse cx="1435" cy="1257" rx="9" ry="10" fill="#2a2a2a" stroke="#555" stroke-width="1.2"/>
  <circle cx="1436" cy="1257" r="3.5" fill="#111"/>
  <line x1="1392" y1="1315" x2="1475" y2="1299.5" stroke="#111" stroke-width="4.5"/>
  <ellipse cx="1396" cy="1315" rx="8" ry="9" fill="#141414"/>
  <path d="M1300 1268 Q1350 1258 1380 1285 Q1398 1310 1392 1345 Q1385 1380 1350 1392 L1285 1392 Q1272 1360 1276 1320 Q1280 1280 1300 1268Z" fill="#161616"/>
  <path d="M1345 1270 Q1380 1280 1390 1320 Q1392 1350 1380 1372" fill="none" stroke="#3a3a3a" stroke-width="5" opacity="0.7"/>
  <ellipse cx="1319.5" cy="1329" rx="42" ry="54" fill="#1b1b1b" stroke="#070707" stroke-width="3" transform="rotate(-8 1319.5 1329)"/>
  <ellipse cx="1321" cy="1328" rx="33" ry="43" fill="#3c3c3c" stroke="#111" stroke-width="2.5" transform="rotate(-8 1321 1328)"/>
  <ellipse cx="1323" cy="1328" rx="24" ry="32" fill="#2c2c2c" transform="rotate(-8 1323 1328)"/>
  <circle cx="1315" cy="1330" r="12.5" fill="#222" stroke="#5a5a5a" stroke-width="2"/>
  <circle cx="1315" cy="1330" r="5" fill="#0e0e0e"/>
</g>
<rect x="1246.5" y="1216.9" width="224.5" height="166.5" rx="50" fill="none" stroke="#9a9a9a" stroke-width="2.5"/>

<!--BOTTOM-->
</svg>
</body></html>
